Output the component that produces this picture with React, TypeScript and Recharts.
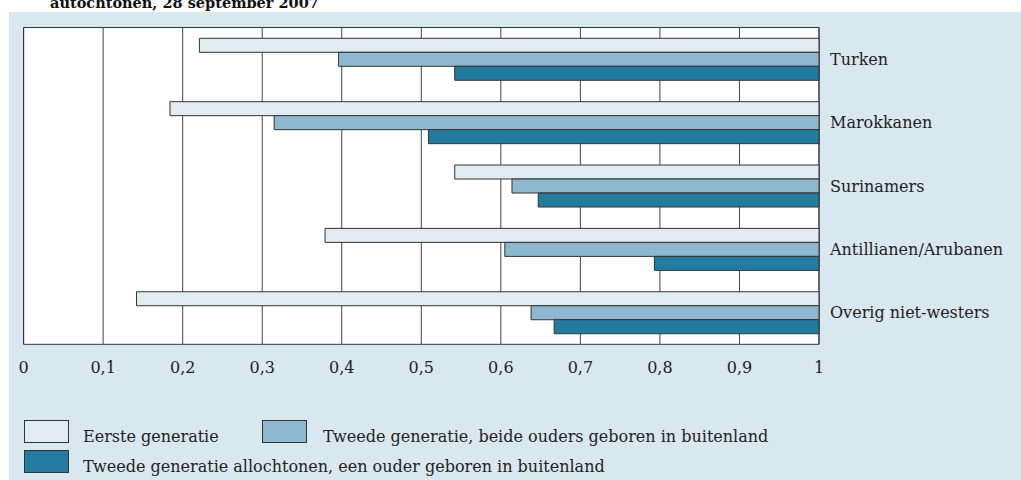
import React from 'react';
import { BarChart, Bar, XAxis, YAxis, CartesianGrid, ReferenceArea } from 'recharts';

const categories = ['Turken', 'Marokkanen', 'Surinamers', 'Antillianen/Arubanen', 'Overig niet-westers'];
const eersteGeneratie = [0.221, 0.184, 0.542, 0.379, 0.142];
const tweedeBeide = [0.396, 0.315, 0.614, 0.605, 0.638];
const tweedeEen = [0.542, 0.509, 0.647, 0.793, 0.667];
const xTicks = [0, 0.1, 0.2, 0.3, 0.4, 0.5, 0.6, 0.7, 0.8, 0.9, 1];
const seriesNames = [
  'Eerste generatie',
  'Tweede generatie, beide ouders geboren in buitenland',
  'Tweede generatie allochtonen, een ouder geboren in buitenland',
];
const titleText = 'autochtonen, 28 september 2007';

const COLORS = ['#e0ebf2', '#8cb9cf', '#247ba0'];
const FONT = '"DejaVu Serif", serif';

const data = categories.map((c, i) => ({
  name: c,
  eerste: [eersteGeneratie[i], 1],
  beide: [tweedeBeide[i], 1],
  een: [tweedeEen[i], 1],
}));

const fmt = (v: number) => String(Number(v.toFixed(1))).replace('.', ',');

function LegendBox({ x, y, color }: { x: number; y: number; color: string }) {
  return (
    <div
      style={{
        position: 'absolute',
        left: x,
        top: y,
        width: 45,
        height: 23,
        background: color,
        border: '1px solid #333',
        boxSizing: 'border-box',
      }}
    />
  );
}

export default function App() {
  const legendItems = [
    { box: [24, 420], text: [83, 441.5] },
    { box: [262, 420], text: [323, 441.5] },
    { box: [24, 450], text: [83, 471.5] },
  ];
  return (
    <div style={{ position: 'absolute', left: 0, top: 0, width: 1021, height: 480, background: '#fff', overflow: 'hidden' }}>
      <div style={{ position: 'absolute', left: 9, top: 12, width: 1012, height: 468, background: '#d9e7ef' }} />
      <svg style={{ position: 'absolute', left: 0, top: 0 }} width={1021} height={20}>
        <text x={50} y={7.5} fontFamily={FONT} fontWeight="bold" fontSize={14.5} fill="#111">
          {titleText}
        </text>
      </svg>
      <div style={{ position: 'absolute', left: 0, top: 0 }}>
        <BarChart
          width={1021}
          height={480}
          data={data}
          layout="vertical"
          margin={{ top: 27.5, right: 0, left: 23.6, bottom: 105.7 }}
          barCategoryGap={10.8}
          barGap={0}
        >
          <CartesianGrid horizontal={false} vertical={true} stroke="#444" fill="#ffffff" />
          <XAxis
            type="number"
            domain={[0, 1]}
            ticks={xTicks}
            tickFormatter={fmt}
            height={30}
            axisLine={false}
            tickLine={false}
            tickSize={0}
            tickMargin={17}
            tick={{ fontFamily: FONT, fontSize: 16, fill: '#222' }}
            interval={0}
          />
          <YAxis
            type="category"
            dataKey="name"
            orientation="right"
            width={202}
            axisLine={false}
            tickLine={false}
            tickSize={0}
            tickMargin={11}
            tick={{ fontFamily: FONT, fontSize: 16, fill: '#222', textAnchor: 'start' }}
            interval={0}
          />
          <Bar dataKey="eerste" fill={COLORS[0]} stroke="#333" strokeWidth={1} isAnimationActive={false} />
          <Bar dataKey="beide" fill={COLORS[1]} stroke="#333" strokeWidth={1} isAnimationActive={false} />
          <Bar dataKey="een" fill={COLORS[2]} stroke="#333" strokeWidth={1} isAnimationActive={false} />
          <ReferenceArea x1={0} x2={1} fill="none" stroke="#333" strokeWidth={1} ifOverflow="visible" />
        </BarChart>
      </div>
      {legendItems.map((it, i) => (
        <React.Fragment key={i}>
          <LegendBox x={it.box[0]} y={it.box[1]} color={COLORS[i]} />
        </React.Fragment>
      ))}
      <svg style={{ position: 'absolute', left: 0, top: 400 }} width={1021} height={80}>
        {legendItems.map((it, i) => (
          <text key={i} x={it.text[0]} y={it.text[1] - 400} fontFamily={FONT} fontSize={16} fill="#222">
            {seriesNames[i]}
          </text>
        ))}
      </svg>
    </div>
  );
}
